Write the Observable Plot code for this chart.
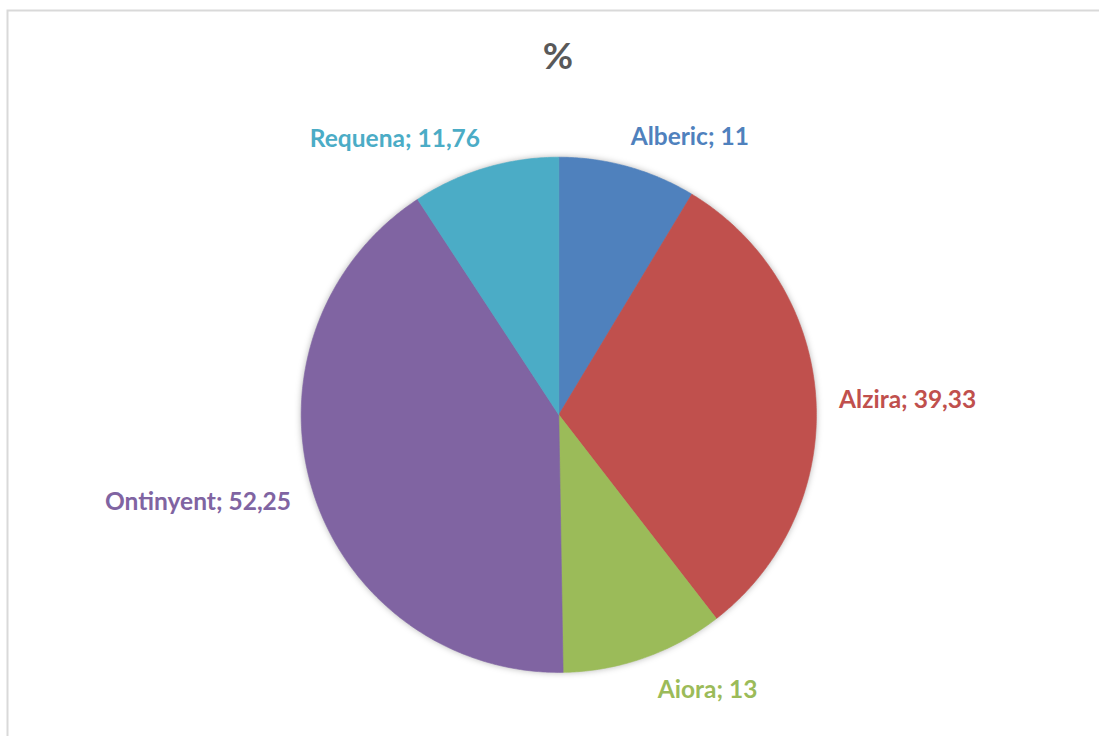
<!DOCTYPE html>
<html>
<head>
<meta charset="utf-8">
<script src="https://cdn.jsdelivr.net/npm/d3@7"></script>
<script src="https://cdn.jsdelivr.net/npm/@observablehq/plot@0.6"></script>
<style>
  html, body { margin: 0; padding: 0; background: #fff; }
  #chart svg g[aria-label="line"] { filter: drop-shadow(0px 0px 3px rgba(0,0,0,0.28)); }
</style>
</head>
<body>
<div id="chart"></div>
<script>
// ---- data ----
const categories = ["Alberic", "Alzira", "Aiora", "Ontinyent", "Requena"];
const values = [11, 39.33, 13, 52.25, 11.76];
const colors = ["#4F81BD", "#C0504D", "#9BBB59", "#8064A2", "#4BACC6"];
const title = "%";

// ---- layout ----
const W = 1099, H = 736;
const cx = 558.3, cy = 414.3, R = 257.6;

const total = d3.sum(values);
let acc = 0;
const slices = categories.map((name, i) => {
  const a0 = acc / total * 2 * Math.PI;
  acc += values[i];
  const a1 = acc / total * 2 * Math.PI;
  return {name, value: values[i], a0, a1, mid: (a0 + a1) / 2};
});

// polygon points of each slice (unit radius, angle clockwise from 12 o'clock)
const pts = [];
for (const s of slices) {
  pts.push({name: s.name, x: 0, y: 0});
  const n = Math.max(2, Math.ceil((s.a1 - s.a0) / (Math.PI / 360)));
  for (let k = 0; k <= n; k++) {
    const a = s.a0 + (s.a1 - s.a0) * k / n;
    pts.push({name: s.name, x: Math.sin(a), y: Math.cos(a)});
  }
  pts.push({name: s.name, x: 0, y: 0});
}

const fmt = v => String(v).replace(".", ",");
const labels = slices.map(s => {
  const sx = Math.sin(s.mid), cyv = Math.cos(s.mid);
  const vert = cyv > 0.5 ? "bottom" : cyv < -0.5 ? "top" : "middle";
  return {
    name: s.name,
    text: `${s.name}; ${fmt(s.value)}`,
    x: sx * 1.055, y: cyv * 1.055,
    anchor: sx >= 0 ? "start" : "end",
    vert,
    dx: vert === "middle" ? (sx >= 0 ? 9 : -8) : (vert === "top" ? 9 : -1),
    dy: vert === "middle" ? (sx >= 0 ? 1 : 7) : (vert === "top" ? 9.5 : -7.5)
  };
});

const font = "Lato, 'Open Sans', sans-serif";
const labelMarks = [];
for (const l of labels) {
  labelMarks.push(Plot.text([l], {
    x: "x", y: "y", text: "text",
    fill: "name",
    textAnchor: l.anchor, lineAnchor: l.vert,
    dx: l.dx, dy: l.dy,
    fontSize: 24.5, fontWeight: "bold", fontFamily: font
  }));
}

const chart = Plot.plot({
  width: W, height: H,
  margin: 0,
  style: {background: "#fff", overflow: "visible"},
  x: {domain: [-cx / R, (W - cx) / R], range: [0, W], axis: null},
  y: {domain: [-(H - cy) / R, cy / R], range: [H, 0], axis: null},
  color: {domain: categories, range: colors},
  marks: [
    Plot.frame({stroke: "#d9d9d9", strokeWidth: 2, insetLeft: 7, insetTop: 10, insetRight: -10, insetBottom: -10}),
    Plot.line(pts, {x: "x", y: "y", z: "name", fill: "name", stroke: "name", strokeWidth: 0.6, curve: "linear"}),
    ...labelMarks,
    Plot.text([title], {frameAnchor: "top", dx: 8, dy: 57, lineAnchor: "middle", fontSize: 37, fontWeight: "bold", fill: "#595959", fontFamily: font})
  ]
});
document.getElementById("chart").appendChild(chart);
</script>
</body>
</html>
